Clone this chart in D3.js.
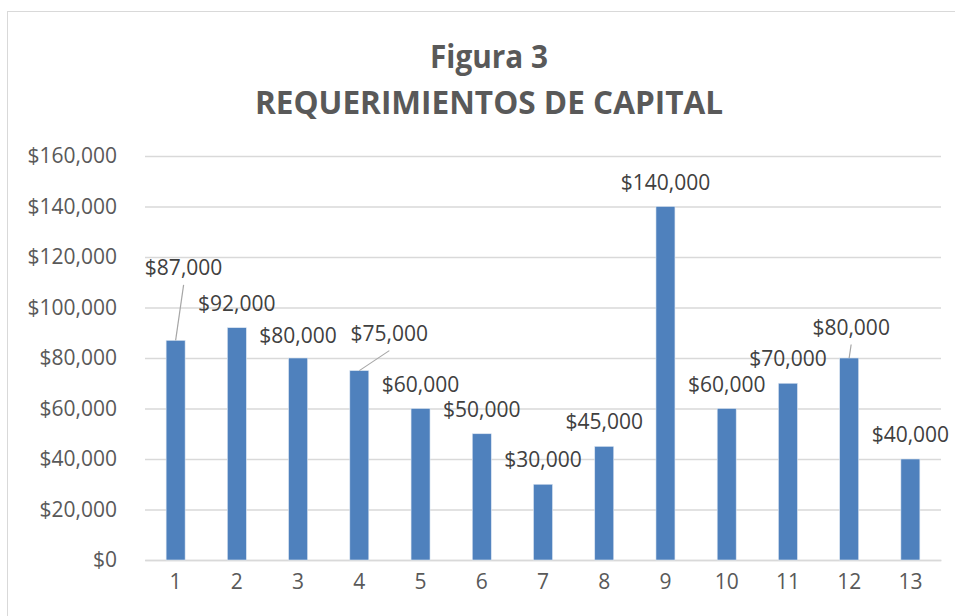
<!DOCTYPE html>
<html>
<head>
<meta charset="utf-8">
<script src="https://cdn.jsdelivr.net/npm/d3@7"></script>
<style>
  body { margin: 0; background: #fff; }
  svg { display: block; font-family: "Open Sans", sans-serif; }
</style>
</head>
<body>
<svg id="chart"></svg>
<script>
const categories = ['1', '2', '3', '4', '5', '6', '7', '8', '9', '10', '11', '12', '13'];
const values = [87000, 92000, 80000, 75000, 60000, 50000, 30000, 45000, 140000, 60000, 70000, 80000, 40000];
const yTicks = [0, 20000, 40000, 60000, 80000, 100000, 120000, 140000, 160000];
const titleLines = ['Figura 3', 'REQUERIMIENTOS DE CAPITAL'];

// labels that Excel had dragged away from the bar (dx, dy) and which have leader lines
const labelShift = { 0: [8, -48.5], 2: [0, 2], 3: [30, -13], 11: [2, -6.5] };
const leaderIdx = [0, 3, 11];

const width = 955;
const height = 616;
const margin = { top: 156, right: 14, bottom: 56, left: 145 };

const svg = d3.select('#chart').attr('width', width).attr('height', height);

svg.selectAll("*").remove();

// chart frame
svg.append('rect')
    .attr('x', 7.5).attr('y', 11.5)
    .attr('width', 960).attr('height', 620)
    .attr('fill', '#fff')
    .attr('stroke', '#d9d9d9')
    .attr('stroke-width', 1);

const x = d3.scaleBand()
    .domain(categories)
    .range([margin.left, width - margin.right])
    .paddingInner(0.69)
    .paddingOuter(0.345);

const y = d3.scaleLinear()
    .domain([0, 160000])
    .range([height - margin.bottom, margin.top]);

const fmt = v => '$' + d3.format(',')(v);

// titles
svg.append('text')
    .attr('x', 489).attr('y', 68)
    .attr('text-anchor', 'middle')
    .attr('font-weight', 'bold')
    .attr('font-size', 33)
    .attr('fill', '#595959')
    .attr('textLength', 118)
    .attr('lengthAdjust', 'spacingAndGlyphs')
    .text(titleLines[0]);

svg.append('text')
    .attr('x', 489).attr('y', 114)
    .attr('text-anchor', 'middle')
    .attr('font-weight', 'bold')
    .attr('font-size', 33)
    .attr('fill', '#595959')
    .attr('textLength', 468)
    .attr('lengthAdjust', 'spacingAndGlyphs')
    .text(titleLines[1]);

// y axis with gridlines
const yAxis = svg.append('g')
    .attr('transform', `translate(${margin.left},0)`)
    .call(d3.axisLeft(y)
        .tickValues(yTicks)
        .tickFormat(fmt)
        .tickSize(-(width - margin.left - margin.right))
        .tickPadding(28));

yAxis.select('.domain').remove();
yAxis.selectAll('line').attr('stroke', '#d9d9d9').attr('stroke-width', 1.5);
yAxis.selectAll('text')
    .attr('font-size', 21)
    .attr('font-family', '"Open Sans", sans-serif')
    .attr('fill', '#595959');

// x axis
const xAxis = svg.append('g')
    .attr('transform', `translate(0,${height - margin.bottom})`)
    .call(d3.axisBottom(x).tickSize(0).tickPadding(14));

xAxis.select('.domain').attr('stroke', '#d9d9d9').attr('stroke-width', 1.5);
xAxis.selectAll('text')
    .attr('font-size', 21)
    .attr('font-family', '"Open Sans", sans-serif')
    .attr('fill', '#595959');

// bars
svg.append('g')
    .selectAll('rect')
    .data(values)
    .enter()
    .append('rect')
    .attr('x', (d, i) => x(categories[i]))
    .attr('y', d => y(d))
    .attr('width', x.bandwidth())
    .attr('height', d => y(0) - y(d))
    .attr('fill', '#4f81bd')
    .attr('stroke', '#dce6f2')
    .attr('stroke-width', 0.6);

// data labels
const cx = i => x(categories[i]) + x.bandwidth() / 2;
const lx = i => cx(i) + (labelShift[i] ? labelShift[i][0] : 0);
const ly = (d, i) => y(d) - 17 + (labelShift[i] ? labelShift[i][1] : 0);

svg.append('g')
    .selectAll('line')
    .data(leaderIdx)
    .enter()
    .append('line')
    .attr('x1', i => lx(i))
    .attr('y1', i => ly(values[i], i) + 10)
    .attr('x2', i => cx(i))
    .attr('y2', i => y(values[i]))
    .attr('stroke', '#a6a6a6')
    .attr('stroke-width', 1.2);

svg.append('g')
    .selectAll('text')
    .data(values)
    .enter()
    .append('text')
    .attr('x', (d, i) => lx(i))
    .attr('y', (d, i) => ly(d, i))
    .attr('text-anchor', 'middle')
    .attr('font-size', 21)
    .attr('fill', '#404040')
    .text(d => fmt(d));
</script>
</body>
</html>
